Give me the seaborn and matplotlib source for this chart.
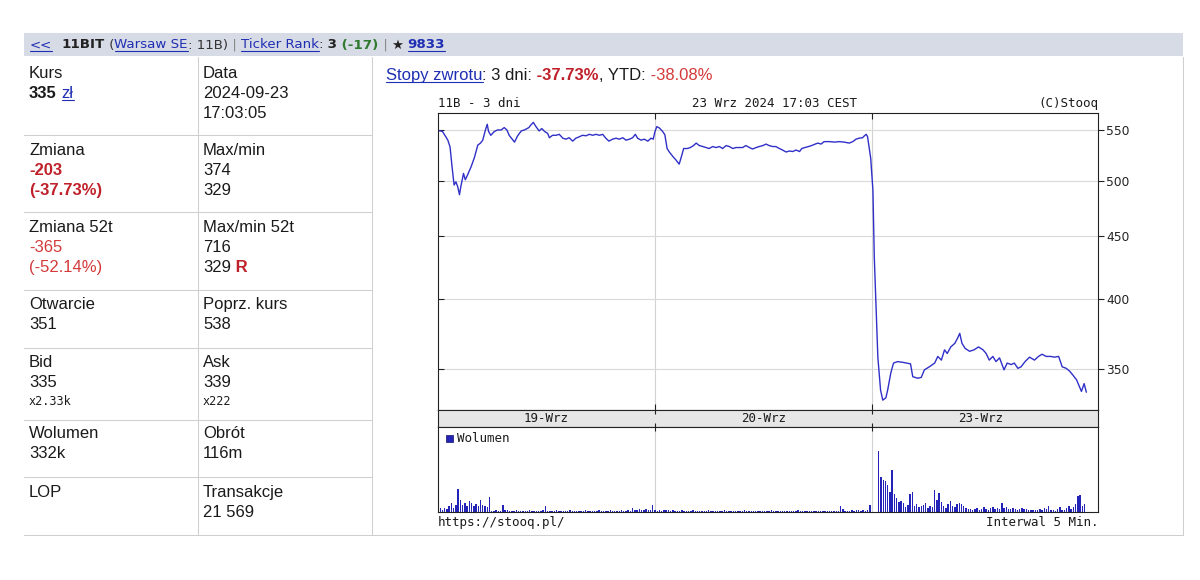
"""
Stooq quote card for 11BIT (3-day 5-min chart) rebuilt with seaborn/matplotlib
"""
import matplotlib
matplotlib.use("Agg")
import matplotlib.pyplot as plt
from matplotlib.lines import Line2D
from matplotlib.patches import Rectangle
from matplotlib.ticker import FixedLocator, FixedFormatter, NullLocator
import pandas as pd
import seaborn as sns

W, H = 1200, 580
DAY_LEN = 485      # minutes reserved per session (9:00 - 17:05)
X_END = 1475       # right edge of the chart, minutes

# price samples: minutes after 9:00 and price (PLN)
day1_min = [0, 10, 22, 27, 31, 36, 40, 44, 48, 51, 57, 61, 66, 74, 81, 89, 95, 100, 106, 110,
            113, 118, 126, 133, 141, 148, 154, 159, 171, 178, 186, 193, 203, 208, 213, 219, 226,
            232, 238, 245, 249, 256, 264, 271, 279, 286, 293, 301, 308, 316, 323, 331, 338, 346,
            353, 361, 368, 375, 382, 390, 398, 405, 413, 420, 428, 435, 441, 446, 454, 461, 469,
            476, 481]
day1_price = [550, 549, 540, 533, 515, 496, 499, 494.5, 487, 494.5, 507, 501, 505.5, 513.5, 522,
              535, 537, 540, 550.5, 556.5, 549, 545, 549, 550.5, 550.5, 553, 550.5, 545, 538,
              544.5, 549.5, 550.5, 553, 556, 558.5, 554, 549.5, 552, 549, 547, 542.5, 545, 545,
              546, 542, 541, 542.5, 539, 542, 543.5, 545, 544.5, 546, 545, 546, 545, 546, 542,
              539, 541, 542, 541, 542.5, 540, 541, 542.5, 546, 542, 540, 541, 539, 542, 541]

day2_min = [0, 4, 10, 17, 22, 27, 32, 40, 47, 54, 60, 64, 72, 79, 86, 92, 99, 107, 114, 121, 129,
            136, 144, 151, 159, 166, 174, 181, 188, 196, 203, 211, 218, 226, 233, 241, 248, 255,
            263, 270, 278, 285, 293, 300, 308, 315, 323, 328, 335, 343, 350, 358, 364, 371, 378,
            390, 401, 412, 423, 434, 442, 449, 456, 464, 468, 472, 475, 482]
day2_price = [549, 554, 552.5, 549, 545.5, 531.5, 528, 523.5, 520, 516, 525, 531.5, 531.5, 532.5,
              534.5, 537, 534.5, 533.5, 532.5, 531.5, 533.5, 532.5, 533.5, 531.5, 534.5, 533.5,
              531.5, 532.5, 532.5, 532.5, 534.5, 532.5, 531, 532.5, 533.5, 534.5, 536, 534.5,
              533.5, 533.5, 531.5, 530, 528, 529, 528.5, 530, 528.5, 531.5, 532.5, 533.5, 534.5,
              536, 537, 536, 538.5, 538.5, 538, 538.5, 538, 537, 538.5, 541, 542, 542.5, 544.5,
              546, 543.5, 522]

day3_min = [2, 5, 9, 13, 19, 24, 31, 35, 42, 48, 57, 69, 86, 91, 102, 110, 117, 128, 140, 147,
            155, 162, 168, 176, 185, 191, 196, 201, 208, 218, 228, 238, 248, 255, 262, 270, 277,
            285, 295, 302, 311, 318, 326, 333, 342, 352, 363, 372, 380, 389, 399, 408, 417, 425,
            434, 442, 449, 457, 462, 468, 474, 479]
day3_price = [491, 433, 394, 358, 336.5, 330, 331.5, 336.5, 347.5, 354, 355, 354.5, 353.5, 345,
              344, 344.5, 349.5, 351.5, 354, 358.5, 356, 363, 360.5, 365, 367.5, 371, 374.5,
              367.5, 364, 362, 363, 365, 363, 360.5, 356, 358.5, 355, 357.5, 349.5, 354, 353,
              354, 350.5, 351.5, 355, 358, 356, 358.5, 360, 358.5, 358.5, 358, 358.5, 351.5,
              350.5, 348.5, 346, 343, 339.5, 335.5, 340.5, 335]

# volume per 5-min bar (relative units), bars at 9:00, 9:05, ...
vol_day1 = [3, 4, 2, 4, 3, 6, 9, 4, 7, 23, 12, 7, 9, 6, 11, 9, 6, 8, 6, 12, 7, 6, 5, 15,
            1, 1, 2, 1, 1, 7, 2, 2, 1, 1, 1, 2, 1, 1, 1, 1, 1, 2, 1, 1, 1, 1, 1, 2, 6, 1, 1, 1,
            1, 2, 1, 1, 1, 1, 1, 2, 1, 1, 1, 1, 1, 1, 2, 1, 1, 1, 1, 1, 2, 1, 1, 1, 1, 2, 1, 1,
            1, 1, 2, 1, 1, 2, 1, 4, 2, 2, 3, 2, 2, 3, 2, 2, 7]
vol_day2 = [2, 1, 2, 1, 2, 2, 2, 1, 2, 1, 1, 1, 2, 1, 1, 1, 1, 2, 1, 1, 1, 1, 1, 1, 2, 1, 1, 1,
            1, 1, 1, 2, 1, 1, 1, 1, 1, 1, 1, 1, 2, 1, 1, 1, 1, 1, 1, 1, 1, 1, 1, 1, 2, 1, 1, 1,
            1, 1, 1, 1, 1, 1, 1, 1, 2, 1, 1, 1, 1, 1, 1, 1, 1, 1, 1, 1, 1, 1, 1, 1, 1, 1, 1, 6,
            3, 1, 1, 1, 2, 1, 2, 2, 1, 2, 1, 2, 7]
vol_day3 = [0, 0, 0, 61, 35, 32, 31, 27, 20, 42, 18, 14, 10, 11, 9, 5, 7, 18, 20, 6, 8, 5, 6, 7,
            9, 4, 6, 5, 22, 12, 19, 10, 6, 4, 8, 11, 6, 5, 8, 9, 8, 6, 4, 3, 3, 2, 3, 4, 2, 3, 5,
            3, 2, 4, 5, 3, 4, 3, 9, 4, 5, 3, 3, 4, 3, 2, 3, 4, 3, 3, 2, 2, 2, 2, 2, 3, 2, 4, 3,
            6, 2, 2, 1, 3, 5, 2, 2, 4, 6, 3, 5, 8, 16, 17, 6, 8, 0]

day_labels = ["19-Wrz", "20-Wrz", "23-Wrz"]
price_ticks = [350, 400, 450, 500, 550]
price_lim = (323.9, 568.5)

# colours
INK = "#1a1a1a"
DARK = "#333333"
GRAYTXT = "#8a8a8a"
LINK = "#1f2fb3"
RED = "#c0202a"
RED2 = "#d43a3a"
GREEN = "#2f7a2f"
RULE = "#cfcfcf"
LINE = "#3030c8"
BARS = "#2323b8"
SANS = "Liberation Sans"
MONO = "DejaVu Sans Mono"

sns.set_style("white")
plt.rcParams["font.family"] = ["DejaVu Sans"]
plt.rcParams["axes.linewidth"] = 0.8

fig = plt.figure(figsize=(W / 100, H / 100), dpi=100)
fig.patch.set_facecolor("white")
renderer = fig.canvas.get_renderer()


def fx(x):
    return x / W


def fy(y):
    return 1 - y / H


def rect(x0, y0, x1, y1):
    return [x0 / W, 1 - y1 / H, (x1 - x0) / W, (y1 - y0) / H]


def hline(x0, x1, y, color=RULE, lw=0.75):
    fig.add_artist(Line2D([fx(x0), fx(x1)], [fy(y), fy(y)], color=color, lw=lw,
                          transform=fig.transFigure))


def vline(x, y0, y1, color=RULE, lw=0.75):
    fig.add_artist(Line2D([fx(x), fx(x)], [fy(y0), fy(y1)], color=color, lw=lw,
                          transform=fig.transFigure))


def run(x, y, pieces, size=12, family=SANS):
    """write text pieces one after another on a common baseline"""
    for piece in pieces:
        s = piece[0]
        st = piece[1] if len(piece) > 1 else {}
        x += st.get("pad", 0)
        t = fig.text(fx(x), fy(y), s, fontsize=size, family=family,
                     color=st.get("color", INK), fontweight=st.get("weight", "normal"),
                     va="baseline", ha="left")
        w = t.get_window_extent(renderer=renderer).width
        if st.get("ul"):
            hline(x, x + w, y + 2, color=st.get("color", INK), lw=0.8)
        x += w
    return x


# ---- header bar ----
fig.add_artist(Rectangle((fx(24), fy(56)), fx(1183) - fx(24), fy(33) - fy(56),
                         color="#d6dbe5", transform=fig.transFigure, lw=0))
run(29.5, 48.5, [
    ("<<", dict(color=LINK, ul=True)),
    ("11BIT", dict(color="#222222", weight="bold", pad=10)),
    (" (", dict(color=DARK)),
    ("Warsaw SE", dict(color=LINK, ul=True)),
    (": 11B)", dict(color=DARK)),
    (" |", dict(color=GRAYTXT)),
    ("Ticker Rank", dict(color=LINK, ul=True, pad=4)),
    (":", dict(color=DARK)),
    (" 3", dict(color="#222222", weight="bold")),
    (" (-17)", dict(color=GREEN, weight="bold")),
    (" |", dict(color=GRAYTXT)),
    ("\u2605", dict(color="#222222", pad=4)),
    ("9833", dict(color=LINK, ul=True, weight="bold", pad=4)),
], size=9.6, family="DejaVu Sans")

# ---- quote table ----
for y in [135, 212, 290, 348, 420, 477]:
    hline(24, 372, y)
hline(24, 1183, 535)
for x in [198, 372, 1183]:
    vline(x, 57, 535)

L, R = 29, 203
run(L, 78, [("Kurs",)])
run(L, 98, [("335", dict(weight="bold")), ("z\u0142", dict(color=LINK, ul=True, pad=5))])
run(R, 78, [("Data",)])
run(R, 98, [("2024-09-23",)])
run(R, 118, [("17:03:05",)])

run(L, 155, [("Zmiana",)])
run(L, 175, [("-203", dict(color=RED, weight="bold"))])
run(L, 195, [("(-37.73%)", dict(color=RED, weight="bold"))])
run(R, 155, [("Max/min",)])
run(R, 175, [("374",)])
run(R, 195, [("329",)])

run(L, 232, [("Zmiana 52t",)])
run(L, 252, [("-365", dict(color=RED2))])
run(L, 272, [("(-52.14%)", dict(color=RED2))])
run(R, 232, [("Max/min 52t",)])
run(R, 252, [("716",)])
run(R, 272, [("329",), (" R", dict(color=RED, weight="bold"))])

run(L, 309, [("Otwarcie",)])
run(L, 329, [("351",)])
run(R, 309, [("Poprz. kurs",)])
run(R, 329, [("538",)])

run(L, 367, [("Bid",)])
run(L, 387, [("335",)])
run(L, 405, [("x2.33k",)], size=8.5, family=MONO)
run(R, 367, [("Ask",)])
run(R, 387, [("339",)])
run(R, 405, [("x222",)], size=8.5, family=MONO)

run(L, 438, [("Wolumen",)])
run(L, 458, [("332k",)])
run(R, 438, [("Obr\u00f3t",)])
run(R, 458, [("116m",)])

run(L, 497, [("LOP",)])
run(R, 497, [("Transakcje",)])
run(R, 517, [("21 569",)])

run(386, 80, [
    ("Stopy zwrotu", dict(color=LINK, ul=True)),
    (": 3 dni:",),
    (" -37.73%", dict(color=RED, weight="bold")),
    (", YTD:",),
    (" -38.08%", dict(color=RED2)),
])

# ---- chart data ----
price_df = pd.concat([
    pd.DataFrame({"t": [m + i * DAY_LEN for m in mins], "price": vals})
    for i, (mins, vals) in enumerate([(day1_min, day1_price), (day2_min, day2_price),
                                      (day3_min, day3_price)])
], ignore_index=True)

vol_df = pd.concat([
    pd.DataFrame({"t": [k * 5 + i * DAY_LEN for k in range(len(v))], "vol": v})
    for i, v in enumerate([vol_day1, vol_day2, vol_day3])
], ignore_index=True)

dividers = [DAY_LEN, 2 * DAY_LEN]
SPINE = "#222222"

# chart caption row
fig.text(fx(438), fy(107), "11B - 3 dni", family=MONO, fontsize=9, color=INK, va="baseline")
fig.text(fx(774.5), fy(107), "23 Wrz 2024 17:03 CEST", family=MONO, fontsize=9, color=INK,
         va="baseline", ha="center")
fig.text(fx(1098), fy(107), "(C)Stooq", family=MONO, fontsize=9, color=INK, va="baseline",
         ha="right")

# price panel
ax = fig.add_axes(rect(438, 113, 1098, 410))
sns.lineplot(data=price_df, x="t", y="price", ax=ax, color=LINE, linewidth=1.0,
             estimator=None, sort=False)
ax.set_yscale("log")
ax.set_ylim(*price_lim)
ax.set_xlim(0, X_END)
ax.set_xlabel("")
ax.set_ylabel("")
ax.yaxis.set_major_locator(FixedLocator(price_ticks))
ax.yaxis.set_minor_locator(NullLocator())
ax.yaxis.set_major_formatter(FixedFormatter([]))
ax.yaxis.set_minor_formatter(FixedFormatter([]))
ax.grid(axis="y", color="#d9d9d9", lw=0.8)
for d in dividers:
    ax.axvline(d, color="#d2d2d2", lw=0.8, zorder=0)
ax.set_xticks(dividers)
ax.tick_params(axis="x", top=True, bottom=True, direction="in", length=4, width=0.8,
               color=SPINE, labelbottom=False)
ax.tick_params(axis="y", left=True, right=False, direction="in", length=4, width=0.8,
               color=SPINE, labelleft=False)
for sp in ax.spines.values():
    sp.set_color(SPINE)

axr = ax.twinx()
axr.set_yscale("log")
axr.set_ylim(*price_lim)
axr.yaxis.set_major_locator(FixedLocator(price_ticks))
axr.yaxis.set_minor_locator(NullLocator())
axr.yaxis.set_major_formatter(FixedFormatter([str(v) for v in price_ticks]))
axr.yaxis.set_minor_formatter(FixedFormatter([]))
axr.tick_params(axis="y", direction="out", length=4, width=0.8, color=SPINE, pad=2,
                labelsize=8.8, labelcolor="#222222")
for sp in axr.spines.values():
    sp.set_visible(False)

# date band
axb = fig.add_axes(rect(438, 410, 1098, 427))
axb.set_facecolor("#e6e6e6")
axb.set_xlim(0, X_END)
axb.set_ylim(0, 1)
axb.set_xticks(dividers)
axb.set_yticks([])
axb.tick_params(axis="x", top=True, bottom=True, direction="in", length=3, width=0.8,
                color=SPINE, labelbottom=False)
for sp in axb.spines.values():
    sp.set_color(SPINE)
for i, lab in enumerate(day_labels):
    axb.text(i * DAY_LEN + DAY_LEN / 2, 0.5, lab, family=MONO, fontsize=9, color=INK,
             ha="center", va="center")

# volume panel
axv = fig.add_axes(rect(438, 427, 1098, 512))
axv.bar(vol_df["t"], vol_df["vol"], width=3.2, color=BARS, linewidth=0)
axv.set_xlim(0, X_END)
axv.set_ylim(0, vol_df["vol"].max() * 1.39)
for d in dividers:
    axv.axvline(d, color="#d2d2d2", lw=0.8, zorder=0)
axv.set_xticks(dividers)
axv.set_yticks([])
axv.tick_params(axis="x", top=True, bottom=False, direction="in", length=3, width=0.8,
                color=SPINE, labelbottom=False)
for sp in axv.spines.values():
    sp.set_color(SPINE)

fig.add_artist(Rectangle((fx(446), fy(442)), fx(453) - fx(446), fy(435) - fy(442),
                         facecolor=BARS, edgecolor="#111166", lw=0.5,
                         transform=fig.transFigure))
fig.text(fx(457), fy(442), "Wolumen", family=MONO, fontsize=9, color=INK, va="baseline")

# footer
fig.text(fx(438), fy(526), "https://stooq.pl/", family=MONO, fontsize=9, color=INK,
         va="baseline")
fig.text(fx(1098), fy(526), "Interwal 5 Min.", family=MONO, fontsize=9, color=INK,
         va="baseline", ha="right")

fig.savefig("out.png", dpi=100)
